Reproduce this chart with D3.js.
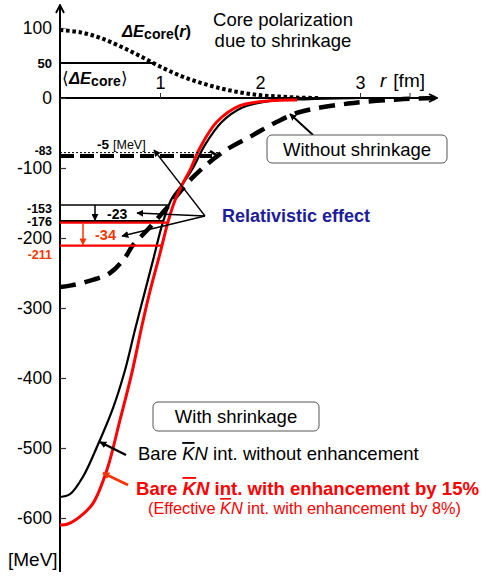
<!DOCTYPE html>
<html>
<head>
<meta charset="utf-8">
<script src="https://cdn.jsdelivr.net/npm/d3@7"></script>
<style>
  body { margin: 0; background: #fff; }
  svg { display: block; font-family: "Liberation Sans", Arial, sans-serif; }
</style>
</head>
<body>
<div id="app"></div>
<script>
// kaonic energy E(r) [MeV] vs r [fm]
const shrinkBare = [[0,-570],[0.1,-566],[0.23,-541],[0.38,-495],[0.53,-443],[0.65,-389],[0.75,-331],
  [0.83,-287],[0.93,-232],[1.03,-177],[1.12,-143],[1.22,-124],[1.33,-100],[1.45,-67],[1.62,-34],
  [1.82,-14],[2.1,-4],[2.5,-1.5],[3.0,0]]
const shrinkEnh = [[0,-610],[0.07,-609],[0.2,-598],[0.33,-579],[0.47,-531],[0.6,-460],[0.72,-392],
  [0.82,-325],[0.9,-276],[1.0,-222],[1.08,-177],[1.15,-146],[1.22,-124],[1.3,-103],[1.4,-71],
  [1.57,-34],[1.8,-11],[2.1,-4],[2.37,-3]]
const noShrink = [[0,-270],[0.1,-268],[0.25,-263],[0.5,-250],[0.66,-226],[0.72,-212],[0.87,-189],
  [1.05,-160],[1.33,-113],[1.63,-77],[1.93,-53],[2.17,-34],[2.4,-20],[2.88,-8],[3.38,-2],[3.75,0]]
const coreShift = [[0,97],[0.2,94],[0.4,86],[0.6,74],[0.8,60],[1.0,45],[1.2,32],[1.4,22],[1.6,14],
  [1.8,8],[2.0,4],[2.2,2],[2.4,0.5],[2.6,0]]

const yTicks = [100, 0, -100, -200, -300, -400, -500, -600]
const xTicks = [1, 2, 3]
const xMinor = [3.5]
const coreMean = 50
const noShrinkLevel = -83, shiftedLevel = -78
const blackLevels = [-153, -176]
const redLevels = [-178, -211]
const levelLabels = ['-153', '-176']

const RED = '#ff0000', ORANGE = '#ff3300', BLUE = '#1c1c9c'

const svg = d3.select('#app').append('svg').attr('width', 482).attr('height', 576)

const x = d3.scaleLinear().domain([0, 1]).range([60, 160])
const y = d3.scaleLinear().domain([0, -600]).range([98, 518])

const defs = svg.append('defs')
function marker(id, color, open) {
  const m = defs.append('marker').attr('id', id).attr('viewBox', '0 0 10 10')
    .attr('refX', 9).attr('refY', 5)
    .attr('markerWidth', open ? 10 : 7).attr('markerHeight', open ? 10 : 7)
    .attr('markerUnits', 'userSpaceOnUse').attr('orient', 'auto')
  if (open) m.append('path').attr('d', 'M1,1 L9,5 L1,9').attr('fill', 'none').attr('stroke', color).attr('stroke-width', 1.8)
  else m.append('path').attr('d', 'M0,0 L10,5 L0,10 z').attr('fill', color)
}
marker('axisArrow', '#000', true)
marker('blk', '#000', false)
marker('red', ORANGE, false)

// axes
svg.append('line').attr('x1', x(0)).attr('y1', 572).attr('x2', x(0)).attr('y2', 5)
  .attr('stroke', '#000').attr('stroke-width', 2).attr('marker-end', 'url(#axisArrow)')
svg.append('line').attr('x1', x(0)).attr('y1', y(0)).attr('x2', 437).attr('y2', y(0))
  .attr('stroke', '#000').attr('stroke-width', 2).attr('marker-end', 'url(#axisArrow)')

const yAxis = svg.append('g').attr('transform', `translate(${x(0)},0)`)
  .call(d3.axisLeft(y).tickValues(yTicks).tickSizeInner(-6).tickSizeOuter(0).tickPadding(8).tickFormat((d) => String(d)))
yAxis.select('.domain').remove()
yAxis.selectAll('text').attr('font-size', 17.5).attr('font-family', 'Liberation Sans, Arial').attr('fill', '#000')
yAxis.selectAll('line').attr('stroke', (d) => d === 100 ? '#999' : '#333').attr('stroke-width', 1.2)

const xAxis = svg.append('g').attr('transform', `translate(0,${y(0)})`)
  .call(d3.axisTop(x).tickValues(xTicks).tickSizeInner(5).tickSizeOuter(0).tickPadding(4).tickFormat((d) => String(d)))
xAxis.select('.domain').remove()
xAxis.selectAll('text').attr('font-size', 18).attr('font-family', 'Liberation Sans, Arial').attr('fill', '#000')
xAxis.selectAll('line').attr('stroke', '#333')
svg.selectAll('.minor').data(xMinor).join('line')
  .attr('x1', (d) => x(d)).attr('x2', (d) => x(d)).attr('y1', y(0)).attr('y2', y(0) - 5).attr('stroke', '#333')

const tr = svg.append('text').attr('x', 380).attr('y', 87).attr('font-size', 19)
tr.append('tspan').attr('font-style', 'italic').text('r')
tr.append('tspan').attr('dx', 7).text('[fm]')

// curves
const line = d3.line().x((d) => x(d[0])).y((d) => y(d[1])).curve(d3.curveCatmullRom.alpha(0.5))

svg.append('path').attr('d', line(coreShift)).attr('fill', 'none').attr('stroke', '#000')
  .attr('stroke-width', 4).attr('stroke-dasharray', '3.5,2.7')
svg.append('path').attr('d', line(noShrink)).attr('fill', 'none').attr('stroke', '#000')
  .attr('stroke-width', 4.5).attr('stroke-dasharray', '16,9')
svg.append('path').attr('d', line(shrinkBare)).attr('fill', 'none').attr('stroke', '#000').attr('stroke-width', 2.2)
svg.append('path').attr('d', line(shrinkEnh)).attr('fill', 'none').attr('stroke', RED).attr('stroke-width', 3)

// r where a curve reaches energy e (rising branch)
function rAt(curve, e) {
  for (let i = 1; i < curve.length; i++) {
    const [r0, e0] = curve[i - 1], [r1, e1] = curve[i]
    if ((e0 - e) * (e1 - e) <= 0 && e0 !== e1) return r0 + (e - e0) / (e1 - e0) * (r1 - r0)
  }
  return 0
}

// level lines
svg.append('line').attr('x1', x(0)).attr('x2', x(rAt(coreShift, coreMean)))
  .attr('y1', y(coreMean)).attr('y2', y(coreMean)).attr('stroke', '#000').attr('stroke-width', 2)
svg.append('line').attr('x1', x(0)).attr('x2', x(rAt(noShrink, shiftedLevel)) - 4)
  .attr('y1', y(shiftedLevel)).attr('y2', y(shiftedLevel)).attr('stroke', '#000').attr('stroke-width', 1)
  .attr('stroke-dasharray', '2,2')
const dEnd = x(rAt(noShrink, noShrinkLevel))
svg.append('line').attr('x1', x(0)).attr('x2', dEnd - 6)
  .attr('y1', y(noShrinkLevel)).attr('y2', y(noShrinkLevel)).attr('stroke', '#000').attr('stroke-width', 4)
  .attr('stroke-dasharray', '14,6')
svg.append('path')
  .attr('d', `M${dEnd - 8},${y(noShrinkLevel) - 5} L${dEnd},${y(noShrinkLevel)} L${dEnd - 8},${y(noShrinkLevel) + 5}`)
  .attr('fill', 'none').attr('stroke', '#000').attr('stroke-width', 2.5)

svg.selectAll('.blev').data(blackLevels).join('line')
  .attr('x1', x(0)).attr('x2', (d) => x(rAt(shrinkBare, d)))
  .attr('y1', (d) => y(d)).attr('y2', (d) => y(d))
  .attr('stroke', '#000').attr('stroke-width', (d, i) => i ? 2.2 : 1.5)
svg.selectAll('.rlev').data(redLevels).join('line')
  .attr('x1', x(0)).attr('x2', (d) => x(rAt(shrinkEnh, d)))
  .attr('y1', (d) => y(d)).attr('y2', (d) => y(d))
  .attr('stroke', RED).attr('stroke-width', 2.2)

// down arrows for relativistic shifts
svg.append('line').attr('x1', x(0.35)).attr('x2', x(0.35)).attr('y1', y(blackLevels[0])).attr('y2', y(blackLevels[1]) - 1)
  .attr('stroke', '#000').attr('stroke-width', 1.5).attr('marker-end', 'url(#blk)')
svg.append('line').attr('x1', x(0.23)).attr('x2', x(0.23)).attr('y1', y(redLevels[0])).attr('y2', y(redLevels[1]) - 1)
  .attr('stroke', ORANGE).attr('stroke-width', 1.5).attr('marker-end', 'url(#red)')

// level labels
svg.append('text').attr('x', 52).attr('y', y(noShrinkLevel) - 1).attr('text-anchor', 'end')
  .attr('font-size', 12).attr('font-weight', 'bold').text('-83')
svg.selectAll('.blab').data(blackLevels).join('text')
  .attr('x', 52).attr('y', (d) => y(d) + (d === blackLevels[0] ? 8 : 5)).attr('text-anchor', 'end')
  .attr('font-size', 12.5).attr('font-weight', 'bold').text((d, i) => levelLabels[i])
svg.append('text').attr('x', 52).attr('y', y(redLevels[1]) + 13).attr('text-anchor', 'end')
  .attr('font-size', 12.5).attr('font-weight', 'bold').attr('fill', ORANGE).text('-211')
svg.append('text').attr('x', 52).attr('y', y(coreMean) + 5).attr('text-anchor', 'end')
  .attr('font-size', 13).attr('font-weight', 'bold').text('50')

const m5 = svg.append('text').attr('x', 97).attr('y', 149)
m5.append('tspan').attr('font-size', 13.5).attr('font-weight', 'bold').text('-5')
m5.append('tspan').attr('dx', 4).attr('font-size', 12.5).text('[MeV]')
svg.append('text').attr('x', 107).attr('y', 219).attr('font-size', 14).attr('font-weight', 'bold').text('-23')
svg.append('text').attr('x', 95).attr('y', 240).attr('font-size', 14.5).attr('font-weight', 'bold').attr('fill', ORANGE).text('-34')

// relativistic effect pointers
const vx = 205, vy = 216
;[[154, 150], [137, 213], [122, 236]].forEach(([tx, ty]) => {
  svg.append('line').attr('x1', vx).attr('y1', vy).attr('x2', tx).attr('y2', ty)
    .attr('stroke', '#000').attr('stroke-width', 1.3).attr('marker-end', 'url(#blk)')
})
svg.append('text').attr('x', 222).attr('y', 222).attr('font-size', 18).attr('font-weight', 'bold')
  .attr('fill', BLUE).text('Relativistic effect')

// core polarization labels
svg.append('text').attr('x', 283).attr('y', 26).attr('text-anchor', 'middle').attr('font-size', 18.5).text('Core polarization')
svg.append('text').attr('x', 283).attr('y', 47).attr('text-anchor', 'middle').attr('font-size', 18.5).text('due to shrinkage')

const de = svg.append('text').attr('x', 122).attr('y', 37).attr('font-size', 16.5).attr('font-weight', 'bold')
de.append('tspan').attr('font-style', 'italic').text('ΔE')
de.append('tspan').attr('font-size', 14).attr('dy', 2).text('core')
de.append('tspan').attr('dy', -2).text('(')
de.append('tspan').attr('font-style', 'italic').text('r')
de.append('tspan').text(')')

const dm = svg.append('text').attr('x', 62).attr('y', 84).attr('font-size', 16.5)
dm.append('tspan').text('⟨')
dm.append('tspan').attr('font-style', 'italic').attr('font-weight', 'bold').text('ΔE')
dm.append('tspan').attr('font-size', 14).attr('font-weight', 'bold').attr('dy', 2).text('core')
dm.append('tspan').attr('dy', -2).text('⟩')

// boxes
function box(x0, y0, w, h, label) {
  svg.append('rect').attr('x', x0).attr('y', y0).attr('width', w).attr('height', h).attr('rx', 5)
    .attr('fill', '#fff').attr('stroke', '#555').attr('stroke-width', 1)
  svg.append('text').attr('x', x0 + w / 2).attr('y', y0 + h / 2 + 6.5).attr('text-anchor', 'middle')
    .attr('font-size', 18.5).text(label)
}
svg.append('line').attr('x1', 313).attr('y1', 135).attr('x2', 290).attr('y2', 114)
  .attr('stroke', '#000').attr('stroke-width', 2).attr('marker-end', 'url(#blk)')
box(267, 135, 180, 28, 'Without shrinkage')
box(153, 402, 166, 29, 'With shrinkage')

// curve labels
svg.append('line').attr('x1', 126).attr('y1', 455).attr('x2', 100).attr('y2', 442)
  .attr('stroke', '#000').attr('stroke-width', 2.5).attr('marker-end', 'url(#blk)')
svg.append('line').attr('x1', 128).attr('y1', 485).attr('x2', 103).attr('y2', 473)
  .attr('stroke', ORANGE).attr('stroke-width', 2.5).attr('marker-end', 'url(#red)')

function knLabel(x0, y0, size, weight, color, before, after) {
  const t = svg.append('text').attr('x', x0).attr('y', y0).attr('font-size', size)
    .attr('font-weight', weight).attr('fill', color)
  t.append('tspan').text(before)
  t.append('tspan').attr('font-style', 'italic').style('text-decoration', 'overline').text('K')
  t.append('tspan').attr('font-style', 'italic').text('N')
  t.append('tspan').text(after)
}
knLabel(138, 460, 18.5, 'normal', '#000', 'Bare ', ' int. without enhancement')
knLabel(136, 495, 18.6, 'bold', RED, 'Bare ', ' int. with enhancement by 15%')
knLabel(148, 514, 16.3, 'normal', RED, '(Effective ', '  int. with enhancement by 8%)')

svg.append('text').attr('x', 8).attr('y', 566).attr('font-size', 19).text('[MeV]')
</script>
</body>
</html>
